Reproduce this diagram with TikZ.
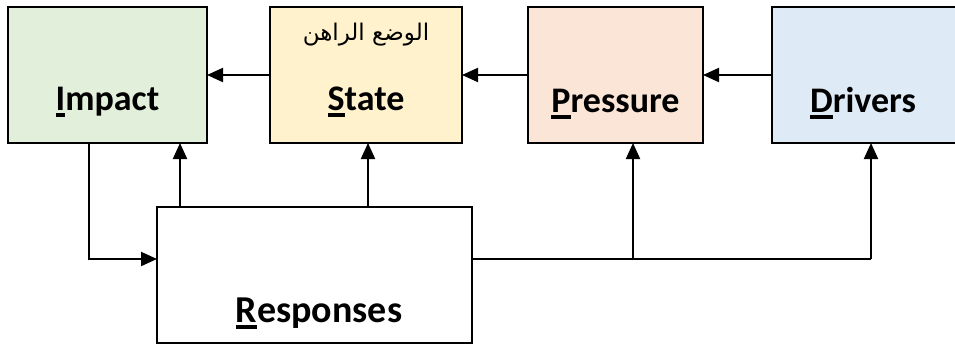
\documentclass[tikz,border=0pt]{standalone}
\usepackage{fontspec}
\setmainfont{Carlito}
\newfontfamily\arabicfont[Script=Arabic]{DejaVu Sans}
\TeXXeTstate=1
\usetikzlibrary{arrows.meta}

% underline the first letter, Word style
\newcommand\firstul[1]{\setbox0\hbox{#1}\rlap{\rule[-6.5pt]{\wd0}{3.2pt}}\box0}

\tikzset{
  box/.style={draw=black, line width=2.6pt, rectangle, inner sep=0pt, outer sep=0pt},
  lbl/.style={font=\fontsize{36}{40}\selectfont\bfseries, inner sep=0pt},
  conn/.style={line width=2pt, line join=miter},
  tipconn/.style={conn, -{Triangle[length=16pt,width=14pt]}}
}

\begin{document}
\begin{tikzpicture}[x=1pt, y=-1pt]
  \useasboundingbox (0,0) rectangle (955,345);
  \clip (0,0) rectangle (955,345);

  % DPSIR boxes
  \node[box, fill={rgb,255:red,226;green,239;blue,218}, minimum width=199pt, minimum height=136pt] (impact) at (107.5,75) {};
  \node[box, fill={rgb,255:red,255;green,242;blue,204}, minimum width=192pt, minimum height=136pt] (state) at (366,75) {};
  \node[box, fill={rgb,255:red,251;green,229;blue,214}, minimum width=175pt, minimum height=136pt] (pressure) at (615.5,75) {};
  \node[box, fill={rgb,255:red,222;green,235;blue,247}, minimum width=188pt, minimum height=136pt] (drivers) at (866,75) {};
  \node[box, fill=white, minimum width=315pt, minimum height=136pt] (responses) at (314.5,275) {};

  % labels
  \node[lbl, anchor=base] (timpact) at (107.5,110) {\firstul{I}mpact};
  \node[lbl, anchor=base] (tstate) at (366,110) {\firstul{S}tate};
  \node[lbl, anchor=base] (tpressure) at (615.5,112) {\firstul{P}ressure};
  \node[lbl, anchor=base] (tdrivers) at (863,112) {\firstul{D}rivers};
  \node[lbl, anchor=base, font=\fontsize{38}{42}\selectfont\bfseries] (tresponses) at (319,322) {\firstul{R}esponses};
  \node[inner sep=0pt, anchor=base] (tarabic) at (366,41)
    {\arabicfont\fontsize{23}{27}\selectfont\beginR الوضع الراهن\endR};

  % bus and branch points
  \coordinate (busL) at (89,259);
  \coordinate (busR) at (871,259);
  \coordinate (upI) at (180,0);
  \coordinate (upS) at (368,0);
  \coordinate (upP) at (633,0);

  % causal chain along the top
  \draw[tipconn] (drivers.west) -- (pressure.east);
  \draw[tipconn] (pressure.west) -- (state.east);
  \draw[tipconn] (state.west) -- (impact.east);

  % impact feeds the responses
  \draw[tipconn] (impact.south -| busL) -- (busL) -- (busL -| responses.west);

  % responses act on impact and state
  \draw[tipconn] (responses.north -| upI) -- (impact.south -| upI);
  \draw[tipconn] (responses.north -| upS) -- (state.south -| upS);

  % responses act on pressure and drivers
  \draw[conn] (busR -| responses.east) -- (busR);
  \draw[tipconn] (busR) -- (drivers.south -| busR);
  \draw[tipconn] (busR -| upP) -- (pressure.south -| upP);
\end{tikzpicture}
\end{document}
